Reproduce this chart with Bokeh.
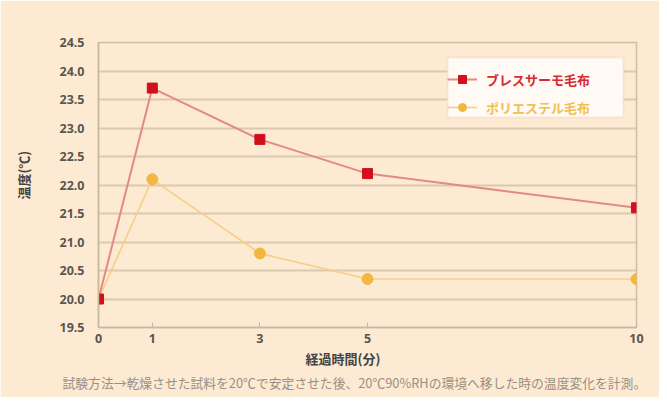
import math
from bokeh.plotting import figure
from bokeh.models import Range1d, FixedTicker, Legend, LegendItem, BoxAnnotation, Title, LinearAxis
from bokeh.embed import file_html
from bokeh.resources import INLINE

# ---- data ----
minutes = [0, 1, 3, 5, 10]
breath_thermo = [20.0, 23.7, 22.8, 22.2, 21.6]
polyester = [20.0, 22.1, 20.8, 20.35, 20.35]
series_names = ["ブレスサーモ毛布", "ポリエステル毛布"]
x_ticks = [0, 1, 3, 5, 10]
y_ticks = [19.5, 20.0, 20.5, 21.0, 21.5, 22.0, 22.5, 23.0, 23.5, 24.0, 24.5]
y_tick_labels = ["19.5", "20.0", "20.5", "21.0", "21.5", "22.0", "22.5", "23.0", "23.5", "24.0", "24.5"]
x_title = "経過時間(分)"
y_title = "温度(℃)"
note = "試験方法→乾燥させた試料を20℃で安定させた後、20℃90%RHの環境へ移した時の温度変化を計測。"

# ---- style ----
BG = "#fdead2"
GRID = "#dac9ad"
RED = "#d0101c"
RED_LINE = "#e38a80"
YEL = "#f2b73e"
YEL_LINE = "#f6cf86"
JP = "Noto Sans CJK JP"
Y_TITLE_ANCHOR = 22.6  # position of the vertical y title along the axis

p = figure(frame_width=538, frame_height=285,
           x_range=Range1d(0, 10), y_range=Range1d(19.5, 24.5),
           output_backend="svg", toolbar_location=None,
           min_border_left=98, min_border_right=23,
           min_border_top=42, min_border_bottom=70)
p.background_fill_color = BG
p.border_fill_color = BG
p.outline_line_color = "#cdbda4"
p.outline_line_width = 1.5

p.xgrid.grid_line_color = None
p.ygrid.grid_line_color = GRID
p.ygrid.grid_line_width = 2
p.yaxis.ticker = FixedTicker(ticks=y_ticks)
p.xaxis.ticker = FixedTicker(ticks=x_ticks)
p.yaxis.major_label_overrides = {t: l for t, l in zip(y_ticks, y_tick_labels)}

for ax in (p.xaxis, p.yaxis):
    ax.axis_line_color = "#c9b89e"
    ax.axis_line_width = 1.5
    ax.minor_tick_line_color = None
    ax.major_label_text_font = "Noto Sans"
    ax.major_label_text_font_size = "12.5px"
    ax.major_label_text_font_style = "bold"
    ax.major_label_text_color = "#5a5550"
p.yaxis.major_tick_line_color = None
p.yaxis.major_label_standoff = 8
p.xaxis.major_tick_in = 5
p.xaxis.major_tick_out = 0
p.xaxis.major_tick_line_color = "#c9b89e"
p.xaxis.major_label_standoff = 6

# y title as a one-label axis further left (text reads top to bottom)
title_axis = LinearAxis(ticker=FixedTicker(ticks=[Y_TITLE_ANCHOR]),
                        major_label_overrides={Y_TITLE_ANCHOR: y_title},
                        axis_line_color=None, major_tick_line_color=None,
                        minor_tick_line_color=None,
                        major_label_orientation=math.pi / 2,
                        major_label_standoff=27,
                        major_label_text_font=JP,
                        major_label_text_font_size="13px",
                        major_label_text_font_style="bold",
                        major_label_text_color="#444444")
p.add_layout(title_axis, "left")

# series
yl = p.line(minutes, polyester, line_color=YEL_LINE, line_width=1.6)
ym = p.scatter(minutes, polyester, marker="circle", size=11, fill_color=YEL, line_color=YEL)
rl = p.line(minutes, breath_thermo, line_color=RED_LINE, line_width=2)
rm = p.scatter(minutes, breath_thermo, marker="square", size=10, fill_color=RED, line_color=RED)

# legend box
box = BoxAnnotation(left=6.487, right=9.758, top=24.237, bottom=23.184,
                    fill_color="#fffaf3", fill_alpha=1,
                    line_color="#e7c2b2", line_width=2)
p.add_layout(box)

def make_legend(item, loc, color):
    lg = Legend(items=[item], location=loc, orientation="vertical",
                border_line_color=None, background_fill_alpha=0,
                padding=6, margin=0, spacing=0,
                glyph_width=30, glyph_height=20, label_height=20,
                label_standoff=9, label_width=120)
    lg.label_text_font = JP
    lg.label_text_font_size = "13px"
    lg.label_text_font_style = "bold"
    lg.label_text_color = color
    return lg

p.add_layout(make_legend(LegendItem(label=series_names[0], renderers=[rl, rm]), (349, 238), "#d42a34"))
p.add_layout(make_legend(LegendItem(label=series_names[1], renderers=[yl, ym]), (349, 210), "#f0c050"))

# x title and footnote
p.add_layout(Title(text=x_title, align="left", offset=207, standoff=2,
                   text_font=JP, text_font_size="13px", text_font_style="bold",
                   text_color="#444444"), "below")
p.add_layout(Title(text=note, align="left", offset=-36, standoff=4,
                   text_font=JP, text_font_size="12.8px", text_font_style="normal",
                   text_color="#9a8f84"), "below")

open("out.html", "w").write(file_html(p, INLINE))
